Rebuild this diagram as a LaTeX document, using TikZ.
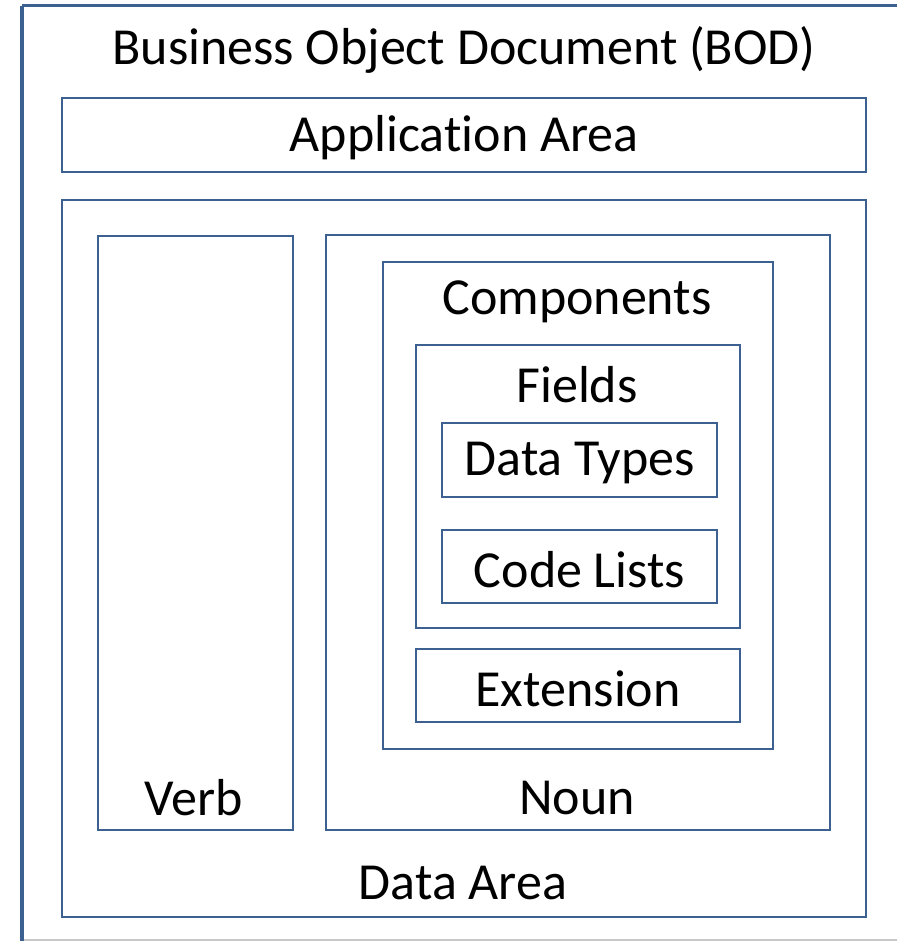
\documentclass[tikz,border=0pt]{standalone}
\usepackage{fontspec}
\setmainfont{Carlito}[Ligatures={NoCommon}]
\definecolor{boxblue}{HTML}{3C6191}
\definecolor{edgegray}{HTML}{C8C8C8}
\tikzset{
  frame/.style={draw=boxblue, line width=2.2pt, inner sep=0pt, anchor=north west},
  label/.style={font=\fontsize{52}{62}\selectfont, inner sep=0pt, text=black, yshift=-3pt},
}
\begin{document}
\begin{tikzpicture}[x=1pt, y=-1pt]
  \useasboundingbox (0,0) rectangle (897,941);
  % outer document frame
  \coordinate (otl) at (22,6);
  \coordinate (otr) at (897,6);
  \coordinate (obl) at (22,941);
  \coordinate (obr) at (897,940);
  \coordinate (obg) at (22,940);
  \draw[edgegray, line width=1.5pt] (obg) -- (obr);
  \draw[boxblue, line width=3pt] (otr) -- (otl);
  \draw[boxblue, line width=4.5pt] (otl) -- (obl);
  \node[label] (bod) at (464,47) {Business Object Document (BOD)};
  % application area
  \node[frame, minimum width=804pt, minimum height=74pt] (app) at (61,97) {};
  \node[label] (applbl) at (app.center) {Application Area};
  % data area
  \node[frame, minimum width=804pt, minimum height=717pt] (data) at (61,199) {};
  \node[label] (datalbl) at (463,880) {Data Area};
  % verb
  \node[frame, minimum width=195pt, minimum height=594pt] (verb) at (97,235) {};
  \node[label] (verblbl) at (194,795) {Verb};
  % noun
  \node[frame, minimum width=504pt, minimum height=595pt] (noun) at (325,234) {};
  \node[label] (nounlbl) at (577,795) {Noun};
  % components
  \node[frame, minimum width=390pt, minimum height=487pt] (comp) at (382,261) {};
  \node[label] (complbl) at (577,299) {Components};
  % fields
  \node[frame, minimum width=324pt, minimum height=283pt] (fields) at (415,344) {};
  \node[label] (fieldslbl) at (577,382) {Fields};
  % data types
  \node[frame, minimum width=275pt, minimum height=74pt] (dtypes) at (441,422) {};
  \node[label] (dtypeslbl) at (dtypes.center) {Data Types};
  % code lists
  \node[frame, minimum width=275pt, minimum height=73pt] (clists) at (441,529) {};
  \node[label] (clistslbl) at (clists.center) {Code Lists};
  % extension
  \node[frame, minimum width=324pt, minimum height=73pt] (ext) at (415,648) {};
  \node[label] (extlbl) at (ext.center) {Extension};
\end{tikzpicture}
\end{document}
